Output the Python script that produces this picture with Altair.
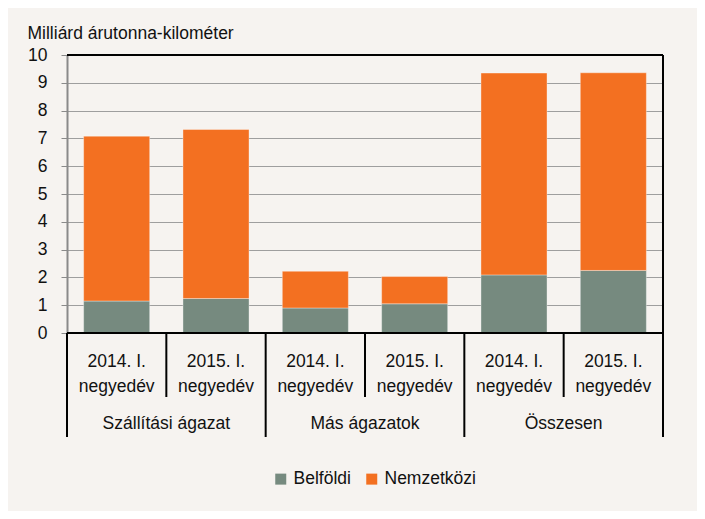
import altair as alt
import pandas as pd

groups = ["Szállítási ágazat", "Más ágazatok", "Összesen"]
periods = ["2014. I. negyedév", "2015. I. negyedév"]
series = ["Belföldi", "Nemzetközi"]
belfoldi = [1.15, 1.24, 0.90, 1.05, 2.09, 2.25]
nemzetkozi = [5.93, 6.08, 1.32, 0.98, 7.26, 7.11]
y_title = "Milliárd árutonna-kilométer"
y_ticks = list(range(0, 11))

colors = ["#768a7f", "#f37021"]
FONT = "Liberation Sans"
TXT = "#111111"
FS = 17.5

cats, rows, cat_rows = [], [], []
k = 0
for gi, g in enumerate(groups):
    for pi, p in enumerate(periods):
        c = f"{g} | {p}"
        cats.append(c)
        cat_rows.append({"cat": c, "group": g, "pi": pi,
                         "label": p.replace(" negyedév", "\nnegyedév")})
        rows.append({"cat": c, "series": series[0], "value": belfoldi[k], "ord": 0})
        rows.append({"cat": c, "series": series[1], "value": nemzetkozi[k], "ord": 1})
        k += 1

df = pd.DataFrame(rows)
cdf = pd.DataFrame(cat_rows)

xs = alt.Scale(domain=cats, paddingInner=0, paddingOuter=0)
ys = alt.Scale(domain=[0, 10], nice=False)
y_axis = alt.Axis(values=y_ticks, tickCount=11, labelOverlap=False,
                  title=y_title, titleAngle=0, titleX=-40, titleY=-17,
                  titleAlign="left", titleBaseline="alphabetic",
                  titleFont=FONT, titleFontSize=FS, titleFontWeight="normal",
                  titleColor=TXT,
                  labelFont=FONT, labelFontSize=FS, labelColor=TXT, labelPadding=14,
                  tickSize=6, tickColor="#8a8a8a", tickWidth=1,
                  domainColor="#8a8a8a", domainWidth=2,
                  grid=True, gridColor="#9e9e9e", gridWidth=1)

bars = alt.Chart(df).mark_bar(
    width=alt.RelativeBandSize(0.665), stroke="#ffffff", strokeOpacity=0.35, strokeWidth=1
).encode(
    x=alt.X("cat:N", scale=xs, axis=None),
    y=alt.Y("value:Q", stack="zero", scale=ys, axis=y_axis, title=y_title),
    color=alt.Color("series:N", title=None,
                    scale=alt.Scale(domain=series, range=colors),
                    legend=alt.Legend(orient="none", legendX=205, legendY=415,
                                      direction="horizontal", symbolType="square",
                                      symbolSize=121, symbolStrokeWidth=0,
                                      labelFont=FONT, labelFontSize=FS, labelColor=TXT,
                                      columnPadding=12, labelOffset=4, padding=0)),
    order=alt.Order("ord:Q", sort="ascending"),
)

sub_labels = alt.Chart(cdf).mark_text(
    font=FONT, fontSize=FS, color=TXT, lineBreak="\n", lineHeight=25,
    baseline="alphabetic", align="center"
).encode(
    x=alt.X("cat:N", scale=xs, axis=None),
    y=alt.value(312),
    text="label:N",
)

group_labels = alt.Chart(cdf[cdf.pi == 1]).mark_text(
    font=FONT, fontSize=FS, color=TXT, baseline="alphabetic", align="center"
).encode(
    x=alt.X("cat:N", scale=xs, axis=None, bandPosition=0),
    y=alt.value(374),
    text="group:N",
)

long_sep = alt.Chart(cdf[cdf.pi == 0]).mark_rule(color="#000000", strokeWidth=2).encode(
    x=alt.X("cat:N", scale=xs, axis=None, bandPosition=0),
    y=alt.value(278), y2=alt.value(382),
)
short_sep = alt.Chart(cdf[cdf.pi == 1]).mark_rule(color="#000000", strokeWidth=2).encode(
    x=alt.X("cat:N", scale=xs, axis=None, bandPosition=0),
    y=alt.value(278), y2=alt.value(342),
)
right_edge = alt.Chart(cdf.tail(1)).mark_rule(color="#000000", strokeWidth=2).encode(
    x=alt.X("cat:N", scale=xs, axis=None, bandPosition=1),
    y=alt.value(0), y2=alt.value(382),
)
top_line = alt.Chart(pd.DataFrame({"value": [y_ticks[-1]]})).mark_rule(
    color="#000000", strokeWidth=2).encode(y=alt.Y("value:Q", scale=ys, axis=y_axis, title=y_title))
zero_line = alt.Chart(pd.DataFrame({"value": [y_ticks[0]]})).mark_rule(
    color="#000000", strokeWidth=2).encode(y=alt.Y("value:Q", scale=ys, axis=y_axis, title=y_title))

chart = alt.layer(
    bars, top_line, zero_line, long_sep, short_sep, right_edge, sub_labels, group_labels
).properties(
    width=596, height=278,
    background="#f6f3f0",
    autosize=alt.AutoSizeParams(type="none"),
    padding={"left": 59, "top": 47, "right": 34, "bottom": 178},
).configure_view(strokeWidth=0)

chart.save("out.html", embed_options={"renderer": "svg", "actions": False})
